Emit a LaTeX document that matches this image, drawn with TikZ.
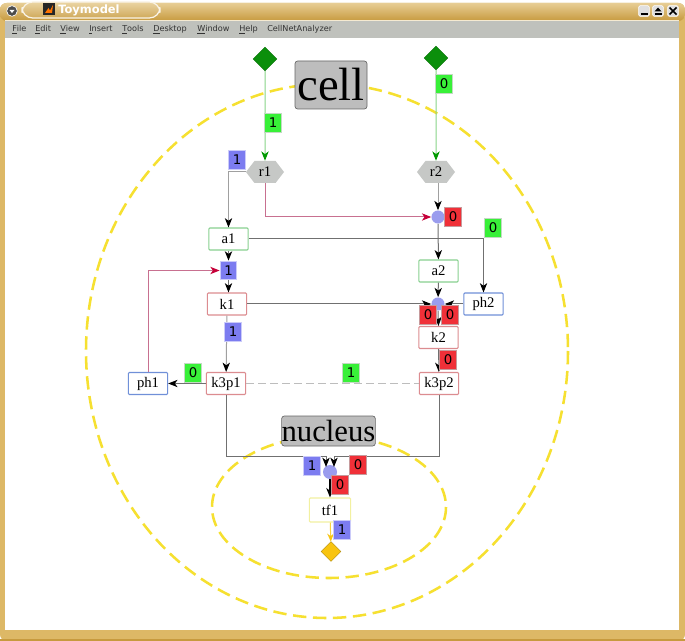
\documentclass[tikz,border=0pt]{standalone}
\usepackage{fontspec}
\setmainfont{Liberation Serif}
\setsansfont{DejaVu Sans}
\usetikzlibrary{arrows.meta,shapes.geometric,shapes.symbols,shadings}
\definecolor{winGold}{HTML}{DDB866}
\definecolor{winGoldDark}{HTML}{C79A3E}
\definecolor{menuGray}{HTML}{BFC1BC}
\definecolor{compGray}{HTML}{BDBDBD}
\definecolor{hexGray}{HTML}{C6C8C6}
\definecolor{lineGray}{HTML}{707070}
\definecolor{softGray}{HTML}{A0A0A0}
\definecolor{dashYellow}{HTML}{F6E030}
\definecolor{inGreen}{HTML}{0B8F0B}
\definecolor{edgeGreen}{HTML}{88D488}
\definecolor{edgeRed}{HTML}{C87090}
\definecolor{boxGreen}{HTML}{88D090}
\definecolor{boxRed}{HTML}{DC8C90}
\definecolor{boxBlue}{HTML}{7090D8}
\definecolor{boxYellow}{HTML}{F2F0A0}
\definecolor{dotBlue}{HTML}{9A9CEE}
\definecolor{valBlue}{HTML}{7C7CF0}
\definecolor{valRed}{HTML}{F03038}
\definecolor{valGreen}{HTML}{38F038}
\definecolor{outGold}{HTML}{F8C410}
\tikzset{
  species/.style={draw,fill=white,line width=0.8pt,inner sep=0pt,minimum width=29.5pt,minimum height=16.5pt,rounded corners=0.7pt,font=\fontsize{11}{11}\selectfont},
  greenbox/.style={species,draw=boxGreen},
  redbox/.style={species,draw=boxRed},
  bluebox/.style={species,draw=boxBlue},
  yellowbox/.style={species,draw=boxYellow,minimum width=31pt,minimum height=18pt},
  value/.style={inner sep=0pt,minimum width=12.5pt,minimum height=14pt,line width=0.8pt,font=\sffamily\fontsize{10}{10}\selectfont,text=black},
  valb/.style={value,fill=valBlue,draw=valBlue!40!white},
  valr/.style={value,fill=valRed,draw=valRed!35!gray!65!white},
  valg/.style={value,fill=valGreen,draw=valGreen!30!gray!40!white},
  compartment/.style={draw=black!60,fill=compGray,rounded corners=2pt,inner sep=0pt,line width=0.5pt},
  region/.style={draw=dashYellow,line width=1.9pt,dash pattern=on 10pt off 5pt,fill=none},
  hexnode/.style={shape=signal,signal to=east and west,signal pointer angle=105,fill=hexGray,inner sep=0pt,minimum width=28.5pt,minimum height=16.5pt,font=\fontsize{11}{11}\selectfont},
  dot/.style={circle,fill=dotBlue,inner sep=0pt,minimum size=9.8pt},
  source/.style={diamond,fill=inGreen,draw=inGreen!80!black,line width=0.3pt,inner sep=0pt,minimum size=18pt,aspect=1},
  sink/.style={diamond,fill=outGold,draw=outGold!70!black,line width=0.3pt,inner sep=0pt,minimum size=15pt,aspect=1},
  wire/.style={-{Stealth[length=7pt,width=5.5pt,inset=2pt,black]},draw=lineGray,line width=0.75pt},
  softwire/.style={wire,draw=softGray},
  greenwire/.style={-{Stealth[length=7pt,width=5.5pt,inset=2pt,green!60!black]},draw=edgeGreen,line width=0.75pt},
  redwire/.style={-{Stealth[length=7pt,width=5.5pt,inset=2pt,purple!90!red]},draw=edgeRed,line width=0.75pt},
  boldwire/.style={wire,draw=black,line width=1.3pt},
  goldwire/.style={-{Stealth[length=6pt,width=5pt,inset=2pt,outGold]},draw=outGold!80!white,line width=0.75pt},
  menuitem/.style={anchor=west,inner sep=0pt,font=\sffamily\fontsize{6.1}{7}\selectfont,text=black!80},
  winbtn/.style={draw=white,fill=white!88!black,rounded corners=1pt,line width=0.4pt,minimum size=8pt,inner sep=0pt}
}
\newcommand{\ul}[1]{\underline{#1}}
\begin{document}
\begin{tikzpicture}[x=0.75pt,y=-0.75pt]
\useasboundingbox (0,0) rectangle (685,641);
% window frame
\fill[white] (0,0) rectangle (685,641);
\fill[winGold,rounded corners=5pt] (0,3) -- (0,641) -- (685,641) -- (685,3) -- cycle;
\shade[top color=winGold!70!white,bottom color=winGoldDark,rounded corners=5pt] (0,3) rectangle (685,21);
\fill[winGoldDark] (0,639) rectangle (685,641);
\fill[menuGray] (5,20.5) rectangle (679,38);
\draw[black!55,line width=0.6pt] (5,38) -- (679,38);
\draw[white!70!winGold,line width=0.6pt] (5,20.5) -- (679,20.5);
\fill[white] (5,38.4) rectangle (679,630);
% title tab and window buttons
\draw[white!85!winGold,line width=0.9pt,top color=winGold!60!white,bottom color=winGoldDark!85!white,rounded corners=8pt] (22,2) rectangle (160,18);
\node[circle,fill=black!70,draw=white,line width=0.5pt,minimum size=8pt,inner sep=0pt] (menubtn) at (12,11) {};
\fill[white] (9.5,10) -- (14.5,10) -- (12,13) -- cycle;
\fill[black!85] (43,3) rectangle (55,15);
\fill[orange!90!red] (45,13) -- (48.5,8) -- (50,10.5) -- (53,5) -- (52,13) -- cycle;
\node[anchor=west,inner sep=0pt,text=white,font=\sffamily\bfseries\fontsize{8.6}{9}\selectfont] (title) at (58,10.5) {Toymodel};
\node[winbtn] (bmin) at (644,11) {};
\draw[black,line width=0.8pt] (640.5,14) -- (647.5,14);
\node[winbtn] (bmax) at (658,11) {};
\fill[black] (654.5,11.5) -- (658,7.5) -- (661.5,11.5) -- cycle;
\draw[black,line width=0.8pt] (654.5,14) -- (661.5,14);
\node[winbtn] (bclose) at (673,11) {};
\draw[black,line width=1.1pt] (669.5,7.5) -- (676.5,14.5) (676.5,7.5) -- (669.5,14.5);
% menu bar
\node[menuitem] (mfile) at (12,29.5) {\ul{F}ile};
\node[menuitem] (medit) at (35,29.5) {\ul{E}dit};
\node[menuitem] (mview) at (60,29.5) {\ul{V}iew};
\node[menuitem] (minsert) at (89,29.5) {\ul{I}nsert};
\node[menuitem] (mtools) at (122,29.5) {\ul{T}ools};
\node[menuitem] (mdesk) at (153,29.5) {\ul{D}esktop};
\node[menuitem] (mwin) at (197,29.5) {\ul{W}indow};
\node[menuitem] (mhelp) at (239,29.5) {\ul{H}elp};
\node[menuitem] (mcna) at (267,29.5) {CellNetAnalyzer};
% compartments
\draw[region] (327,351) ellipse [x radius=241,y radius=267];
\draw[region] (329,507) ellipse [x radius=117,y radius=71];
\node[compartment,minimum width=54pt,minimum height=36pt,font=\fontsize{35}{35}\selectfont] (cell) at (331,85) {cell};
\node[compartment,minimum width=70pt,minimum height=22.5pt,font=\fontsize{23}{23}\selectfont] (nucleus) at (328.5,431) {nucleus};
% species and reactions
\node[source] (inA) at (265,59) {};
\node[source] (inB) at (436,58) {};
\node[hexnode] (r1) at (265,172) {r1};
\node[hexnode] (r2) at (436,172) {r2};
\node[greenbox] (a1) at (228.5,239) {a1};
\node[greenbox] (a2) at (438.5,271) {a2};
\node[redbox] (k1) at (227,304) {k1};
\node[redbox] (k2) at (438.5,337.5) {k2};
\node[redbox] (k3p1) at (226,383.5) {k3p1};
\node[redbox] (k3p2) at (439,383.5) {k3p2};
\node[bluebox] (ph1) at (148,383.5) {ph1};
\node[bluebox] (ph2) at (483.5,304) {ph2};
\node[yellowbox] (tf1) at (330,510) {tf1};
\node[sink] (outT) at (331,551.5) {};
\node[dot] (j1) at (438,217) {};
\node[dot] (j2) at (438,304) {};
\node[dot,minimum size=10.5pt] (j3) at (330,472) {};
% value sitting on the a1-k1 link
\node[valb] (v7) at (228.5,270.5) {1};
% connectors
\coordinate (busA) at (326,456);
\coordinate (busB) at (334,456);
\coordinate (busAin) at (326,467);
\coordinate (busBin) at (334,467);
\draw[greenwire] (inA) -- (r1);
\draw[greenwire] (inB) -- (r2);
\draw[softwire] (r1.west) -| (a1.north);
\draw[redwire] (r1.south) |- (j1.west);
\draw[softwire] (r2.south -| j1.north) -- (j1.north);
\draw[wire] (j1) -- (a2);
\draw[wire] (a1.east) -| (ph2.north);
\draw[wire] (a1.south) -- (v7.north);
\draw[wire] (v7.south) -- (k1.north -| v7.south);
\draw[redwire] (ph1.north) |- (v7.west);
\draw[wire] (k1.east) -- (j2.west);
\draw[wire] (a2) -- (j2);
\draw[wire] (ph2.west) -- (j2.east);
\draw[wire] (j2.south) -- (k2.north);
\draw[wire] (k2) -- (k3p2);
\draw[softwire] (k1) -- (k3p1);
\draw[wire] (k3p1) -- (ph1);
\draw[draw=compGray,line width=1.1pt,dash pattern=on 6pt off 3pt] (k3p1) -- (k3p2);
\draw[wire] (k3p1.south) |- (busA) -- (busAin);
\draw[wire] (k3p2.south) |- (busB) -- (busBin);
\draw[boldwire] (j3) -- (tf1);
\draw[goldwire] (tf1) -- (outT);
% reaction values
\node[valg] (v1) at (273,123) {1};
\node[valb] (v2) at (237,160) {1};
\node[valg] (v3) at (444,84) {0};
\node[valr] (v4) at (453,217) {0};
\node[valg] (v5) at (493,228) {0};
\node[valb] (v8) at (233,332) {1};
\node[valg] (v9) at (193,373) {0};
\node[valg] (v10) at (351,373) {1};
\node[valr] (v11) at (428,315) {0};
\node[valr] (v12) at (450,315) {0};
\node[valr] (v13) at (448,360) {0};
\node[valb] (v14) at (312,466) {1};
\node[valr] (v15) at (358,465) {0};
\node[valr] (v16) at (340,485) {0};
\node[valb] (v17) at (342,530) {1};
\end{tikzpicture}
\end{document}
